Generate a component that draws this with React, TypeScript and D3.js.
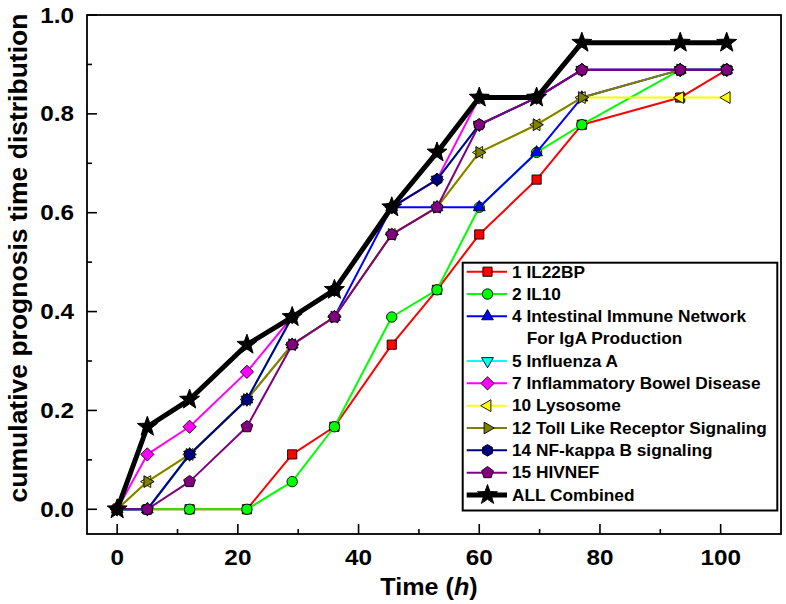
import React from "react";
import * as d3 from "d3";

// ---- data ----
const times = [0, 5, 12, 21.5, 29, 36, 45.5, 53, 60, 69.5, 77, 93.3, 101];

const il22bp = [0, 0, 0, 0, 0.111, 0.167, 0.333, 0.444, 0.556, 0.667, 0.778, 0.833, 0.889];
const il10 = [0, 0, 0, 0, 0.056, 0.167, 0.389, 0.444, 0.611, 0.722, 0.778, 0.889, 0.889];
const intestinal = [0, 0, 0.111, 0.222, 0.333, 0.389, 0.611, 0.611, 0.611, 0.722, 0.833, 0.889, 0.889];
const influenza = [0, 0, 0.111, 0.222, 0.389, 0.444, 0.611, 0.667, 0.778, 0.833, 0.889, 0.889, 0.889];
const ibd = [0, 0.111, 0.167, 0.278, 0.389, 0.444, 0.611, 0.667, 0.833, 0.833, 0.889, 0.889, 0.889];
const lysosome = [0, 0.056, 0.111, 0.222, 0.333, 0.389, 0.556, 0.611, 0.722, 0.778, 0.833, 0.833, 0.833];
const toll = [0, 0.056, 0.111, 0.222, 0.333, 0.389, 0.556, 0.611, 0.722, 0.778, 0.833, 0.889, 0.889];
const nfkb = [0, 0, 0.111, 0.222, 0.389, 0.444, 0.611, 0.667, 0.778, 0.833, 0.889, 0.889, 0.889];
const hivnef = [0, 0, 0.056, 0.167, 0.333, 0.389, 0.556, 0.611, 0.778, 0.833, 0.889, 0.889, 0.889];
const allCombined = [0, 0.167, 0.222, 0.333, 0.389, 0.444, 0.611, 0.722, 0.833, 0.833, 0.944, 0.944, 0.944];

const seriesNames = [
  "1 IL22BP",
  "2 IL10",
  "4 Intestinal Immune Network|For IgA Production",
  "5 Influenza A",
  "7 Inflammatory Bowel Disease",
  "10 Lysosome",
  "12 Toll Like Receptor Signaling",
  "14 NF-kappa B signaling",
  "15 HIVNEF",
  "ALL Combined",
];
const seriesValues = [il22bp, il10, intestinal, influenza, ibd, lysosome, toll, nfkb, hivnef, allCombined];
const seriesColors = ["#FF0000", "#00FF00", "#0000FF", "#00FFFF", "#FF00FF", "#FFFF00", "#808000", "#000080", "#800080", "#000000"];
const seriesMarkers = ["square", "circle", "triUp", "triDown", "diamond", "triLeft", "triRight", "hexagon", "pentagon", "star"];

const xTicks = [0, 20, 40, 60, 80, 100];
const xMinor = [10, 30, 50, 70, 90];
const yTicks = [0, 0.2, 0.4, 0.6, 0.8, 1.0];
const yMinor = [0.1, 0.3, 0.5, 0.7, 0.9];

// ---- helpers ----
const W = 786;
const H = 604;
const FONT = "'Liberation Sans', Arial, sans-serif";

function polygon(n: number, r: number, rotDeg: number): string {
  const pts: string[] = [];
  for (let i = 0; i < n; i++) {
    const a = ((rotDeg + (360 / n) * i) * Math.PI) / 180;
    pts.push(`${(r * Math.cos(a)).toFixed(2)},${(r * Math.sin(a)).toFixed(2)}`);
  }
  return "M" + pts.join("L") + "Z";
}
function star(ro: number, ri: number): string {
  const pts: string[] = [];
  for (let i = 0; i < 10; i++) {
    const r = i % 2 === 0 ? ro : ri;
    const a = ((-90 + 36 * i) * Math.PI) / 180;
    pts.push(`${(r * Math.cos(a)).toFixed(2)},${(r * Math.sin(a)).toFixed(2)}`);
  }
  return "M" + pts.join("L") + "Z";
}
function markerPath(kind: string): string {
  switch (kind) {
    case "square":
      return "M-4.6,-4.6H4.6V4.6H-4.6Z";
    case "circle":
      return d3.symbol(d3.symbolCircle, Math.PI * 5.2 * 5.2)() as string;
    case "triUp":
      return polygon(3, 6.8, -90);
    case "triDown":
      return polygon(3, 6.8, 90);
    case "triLeft":
      return polygon(3, 6.8, 180);
    case "triRight":
      return polygon(3, 6.8, 0);
    case "diamond":
      return polygon(4, 6.6, -90);
    case "hexagon":
      return polygon(6, 5.8, -90);
    case "pentagon":
      return polygon(5, 6.2, -90);
    case "star":
      return star(10.5, 4.3);
  }
  return "";
}

export default function App() {
  const x = d3.scaleLinear().domain([-5, 110]).range([87, 781]);
  const y = d3.scaleLinear().domain([-0.05, 1.0]).range([534, 15]);
  const line = d3
    .line<number>()
    .x((_, i) => x(times[i]))
    .y((v) => y(v));

  const left = x.range()[0];
  const right = x.range()[1];
  const bottom = y.range()[0];
  const top = y.range()[1];

  // legend layout
  const lgX = 462.7;
  const lgY = 262.7;
  const lgW = 314.6;
  const lgH = 247.8;
  const rowStart = 271.7;
  const rowStep = 22.33;
  let row = 0;
  const legendRows = seriesNames.map((name, i) => {
    const parts = name.split("|");
    const ry = rowStart + row * rowStep;
    row += parts.length;
    return { parts, ry, i };
  });

  return (
    <svg
      width={W}
      height={H}
      style={{ position: "absolute", left: 0, top: 0, background: "#fff" }}
      fontFamily={FONT}
      fontWeight="bold"
    >
      <rect x={0} y={0} width={W} height={H} fill="#fff" />

      {/* series */}
      {seriesValues.map((vals, si) => {
        const isAll = si === seriesValues.length - 1;
        return (
          <g key={si}>
            <path
              d={line(vals) as string}
              fill="none"
              stroke={seriesColors[si]}
              strokeWidth={isAll ? 5 : 2}
              strokeLinejoin="round"
            />
            {vals.map((v, i) => (
              <path
                key={i}
                d={markerPath(seriesMarkers[si])}
                transform={`translate(${x(times[i])},${y(v)})`}
                fill={seriesColors[si]}
                stroke="#000"
                strokeWidth={isAll ? 1 : 0.9}
              />
            ))}
          </g>
        );
      })}

      {/* frame */}
      <rect
        x={left}
        y={top}
        width={right - left}
        height={bottom - top}
        fill="none"
        stroke="#000"
        strokeWidth={1.8}
      />

      {/* x ticks */}
      {xTicks.map((t) => (
        <g key={"xt" + t}>
          <line x1={x(t)} x2={x(t)} y1={bottom} y2={bottom - 10} stroke="#000" strokeWidth={1.6} />
          <text
            transform={`translate(${x(t)},565) scale(1.13,1)`}
            textAnchor="middle"
            fontSize={21.5}
            fill="#000"
          >
            {t}
          </text>
        </g>
      ))}
      {xMinor.map((t) => (
        <line key={"xm" + t} x1={x(t)} x2={x(t)} y1={bottom} y2={bottom - 5} stroke="#000" strokeWidth={1.6} />
      ))}

      {/* y ticks */}
      {yTicks.map((t) => (
        <g key={"yt" + t}>
          <line x1={left} x2={left + 10} y1={y(t)} y2={y(t)} stroke="#000" strokeWidth={1.6} />
          <text
            transform={`translate(74,${y(t) + 7.6}) scale(1.13,1)`}
            textAnchor="end"
            fontSize={21.5}
            fill="#000"
          >
            {d3.format(".1f")(t)}
          </text>
        </g>
      ))}
      {yMinor.map((t) => (
        <line key={"ym" + t} x1={left} x2={left + 5} y1={y(t)} y2={y(t)} stroke="#000" strokeWidth={1.6} />
      ))}

      {/* axis titles */}
      <text transform="translate(429,595) scale(1.05,1)" textAnchor="middle" fontSize={24} fill="#000">
        Time (<tspan fontStyle="italic">h</tspan>)
      </text>
      <text
        transform="translate(27,258) rotate(-90)"
        textAnchor="middle"
        fontSize={26.5}
        fill="#000"
      >
        cumulative prognosis time distribution
      </text>

      {/* legend */}
      <rect x={lgX} y={lgY} width={lgW} height={lgH} fill="#fff" stroke="#000" strokeWidth={2} />
      {legendRows.map(({ parts, ry, i }) => {
        const isAll = i === seriesValues.length - 1;
        return (
          <g key={"lg" + i}>
            <line
              x1={466.7}
              x2={507}
              y1={ry}
              y2={ry}
              stroke={seriesColors[i]}
              strokeWidth={isAll ? 5 : 2}
            />
            <path
              d={markerPath(seriesMarkers[i])}
              transform={`translate(487.5,${ry})`}
              fill={seriesColors[i]}
              stroke="#000"
              strokeWidth={0.9}
            />
            {parts.map((p, k) => (
              <text
                key={k}
                transform={`translate(${k === 0 ? 512 : 526.7},${ry + k * rowStep + 5.8}) scale(1.08,1)`}
                fontSize={16}
                fill="#000"
              >
                {p}
              </text>
            ))}
          </g>
        );
      })}
    </svg>
  );
}
